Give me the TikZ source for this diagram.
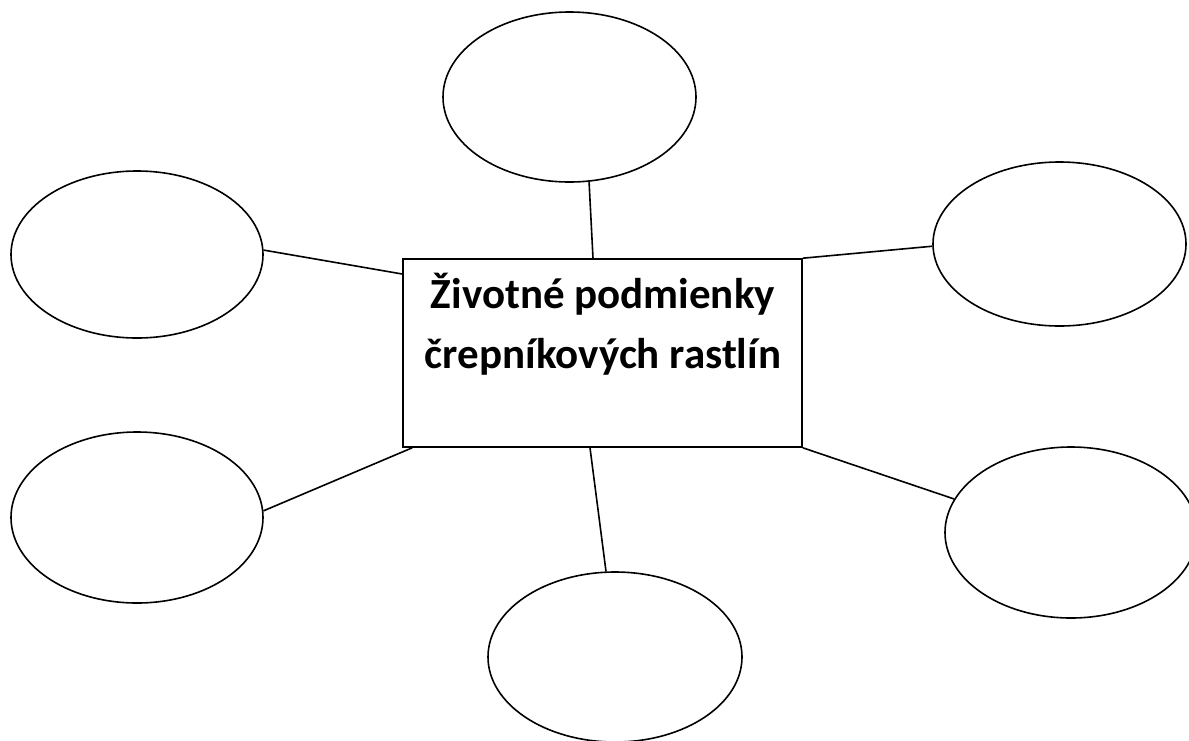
\documentclass[tikz,border=0pt]{standalone}
\usepackage{fontspec}
\setmainfont{Carlito}
\usetikzlibrary{shapes.geometric}
\tikzset{
  bubble/.style={ellipse,draw=black,line width=1.6pt,inner sep=0pt},
  centerbox/.style={rectangle,draw=black,line width=1.6pt,inner sep=0pt,minimum width=399pt,minimum height=188pt},
  link/.style={draw=black,line width=1.6pt},
  titletext/.style={font=\fontsize{43}{60}\selectfont\bfseries,inner sep=0pt,anchor=base}
}
\begin{document}
\begin{tikzpicture}[x=1pt,y=-1pt]
\useasboundingbox (0,0) rectangle (1189,740);
\clip (0,0) rectangle (1189,740);
\fill[white] (0,0) rectangle (1189,740);
\node[centerbox] (c) at (602.5,353) {};
\node[titletext] (t1) at (603,308) {Životné podmienky};
\node[titletext] (t2) at (603,368) {črepníkových rastlín};
\node[bubble,minimum width=253pt,minimum height=170pt] (top) at (569.5,97) {};
\node[bubble,minimum width=252pt,minimum height=167pt] (lt) at (137,254.5) {};
\node[bubble,minimum width=253pt,minimum height=164pt] (rt) at (1059.5,244) {};
\node[bubble,minimum width=252pt,minimum height=171pt] (lb) at (137,517.5) {};
\node[bubble,minimum width=252pt,minimum height=171pt] (rb) at (1071,532.5) {};
\node[bubble,minimum width=254pt,minimum height=170pt] (bot) at (615,657) {};
\draw[link] (top.-77) -- ([xshift=-9.5pt]c.north);
\draw[link] (lt.2.5) -- ([yshift=79pt]c.west);
\draw[link] (rt.181.8) -- (c.north east);
\draw[link] (lb.3.4) -- ([xshift=10pt]c.south west);
\draw[link] (rb.164.3) -- (c.south east);
\draw[link] (bot.96.7) -- ([xshift=-12.5pt]c.south);
\end{tikzpicture}
\end{document}
